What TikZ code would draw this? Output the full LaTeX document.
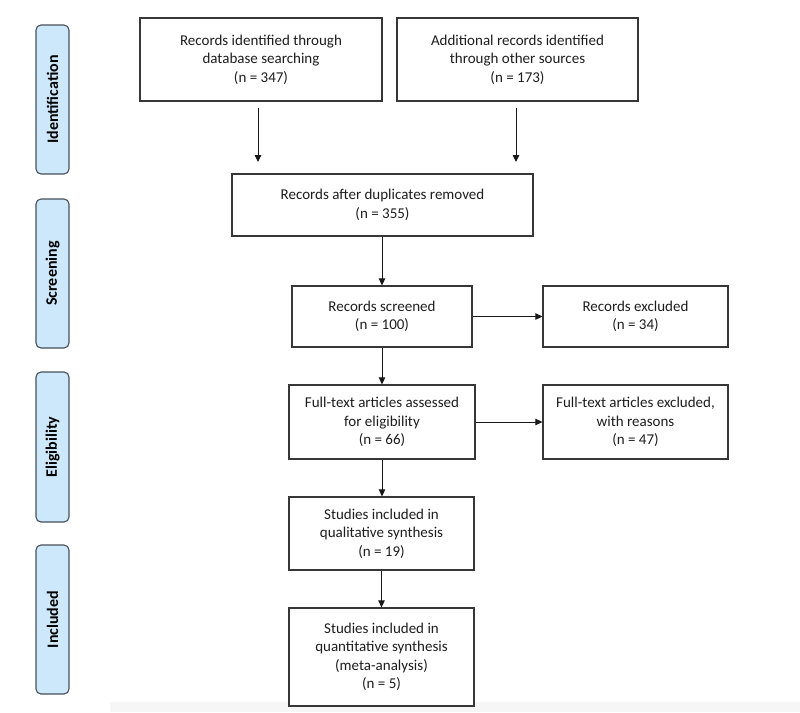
\documentclass[tikz,border=0pt]{standalone}
\usepackage{fontspec}
\setmainfont{Carlito}
\usetikzlibrary{arrows.meta}
\definecolor{sidefill}{RGB}{204,232,250}
\definecolor{sideline}{RGB}{70,80,90}
\definecolor{boxline}{RGB}{55,55,55}
\definecolor{txt}{RGB}{30,30,30}
\tikzset{
  flowbox/.style={draw=boxline, line width=1.2pt, fill=white, align=center, inner sep=0pt,
    text=txt, font=\fontsize{15}{18.4}\selectfont},
  sidebox/.style={draw=sideline, line width=1.1pt, fill=sidefill, rounded corners=5pt,
    rotate=90, inner sep=0pt, minimum height=33pt, text=black,
    font=\fontsize{16}{18}\selectfont\bfseries},
  arr/.style={draw=black!90, line width=0.9pt, -{Triangle[length=7pt,width=6.5pt]}}
}
\begin{document}
\begin{tikzpicture}[x=1pt,y=-1pt]
\useasboundingbox (0,0) rectangle (800,712);
\fill[white] (0,0) rectangle (800,712);
\fill[gray!7] (110,702) rectangle (800,712);

% sidebars
\node[sidebox, minimum width=149pt] (sid) at (52.5,99.5) {Identification};
\node[sidebox, minimum width=149pt] (sscr) at (52.5,273.5) {Screening};
\node[sidebox, minimum width=150pt] (selig) at (52.5,447) {Eligibility};
\node[sidebox, minimum width=149pt] (sincl) at (52.5,619.5) {Included};

% boxes
\node[flowbox, minimum width=242pt, minimum height=83pt] (db) at (261,59.5)
  {Records identified through\\database searching\\(n = 347)};
\node[flowbox, minimum width=241pt, minimum height=83pt] (other) at (517.5,59.5)
  {Additional records identified\\through other sources\\(n = 173)};
\node[flowbox, minimum width=301pt, minimum height=62pt] (dups) at (382.5,205)
  {Records after duplicates removed\\(n = 355)};
\node[flowbox, minimum width=180pt, minimum height=61pt] (scr) at (382,316.5)
  {Records screened\\(n = 100)};
\node[flowbox, minimum width=185pt, minimum height=61pt] (exc1) at (635.5,316.5)
  {Records excluded\\(n = 34)};
\node[flowbox, minimum width=186pt, minimum height=74pt] (ft) at (382,422)
  {Full-text articles assessed\\for eligibility\\(n = 66)};
\node[flowbox, minimum width=185pt, minimum height=74pt] (exc2) at (635.5,422)
  {Full-text articles excluded,\\with reasons\\(n = 47)};
\node[flowbox, minimum width=185pt, minimum height=73pt] (qual) at (381.5,533.5)
  {Studies included in\\qualitative synthesis\\(n = 19)};
\node[flowbox, minimum width=185pt, minimum height=98pt] (quant) at (381.5,657)
  {Studies included in\\quantitative synthesis\\(meta-analysis)\\(n = 5)};

% free arrows
\coordinate (a1s) at (258,108);
\coordinate (a1e) at (258,162);
\coordinate (a2s) at (516,108);
\coordinate (a2e) at (516,162);
\draw[arr] (a1s) -- (a1e);
\draw[arr] (a2s) -- (a2e);

% connectors
\draw[arr] (dups.south -| scr.north) -- (scr.north);
\draw[arr] (scr.east) -- (exc1.west);
\draw[arr] (scr.south) -- (ft.north);
\draw[arr] (ft.east) -- (exc2.west);
\draw[arr] (ft.south) -- (ft.south |- qual.north);
\draw[arr] (qual.south) -- (quant.north);
\end{tikzpicture}
\end{document}
